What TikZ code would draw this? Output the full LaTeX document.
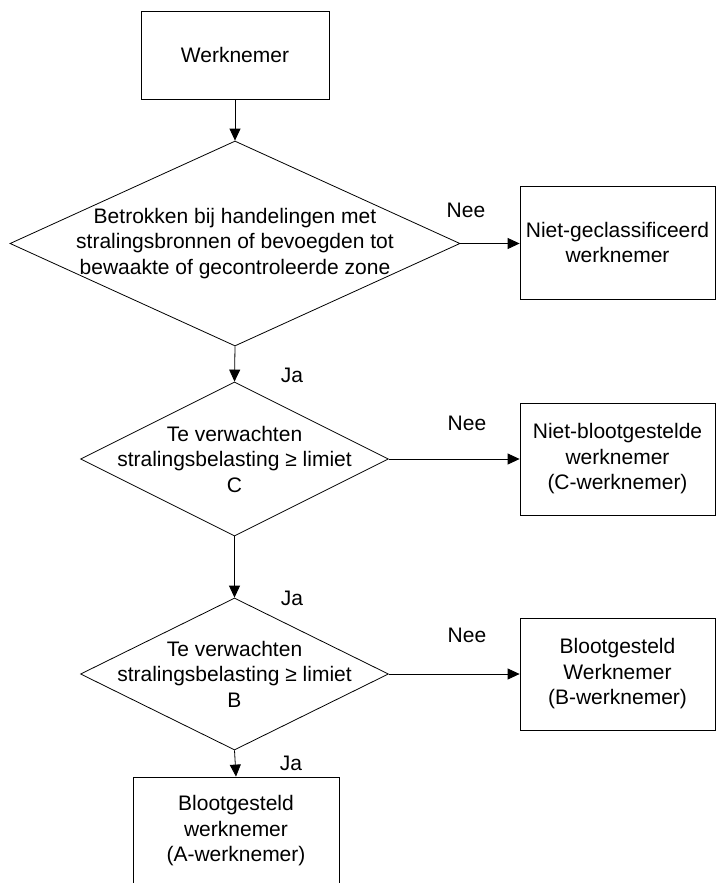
\documentclass[tikz,border=0pt]{standalone}
\usepackage{fontspec}
\setmainfont{Liberation Sans}
\usetikzlibrary{shapes.geometric,arrows.meta}
\begin{document}
\begin{tikzpicture}[x=1pt,y=-1pt,
  box/.style={draw, line width=0.8pt, inner sep=0pt, align=center,
              font=\fontsize{21}{25.5}\selectfont},
  dia/.style={draw, diamond, line width=0.8pt, inner sep=0pt},
  txt/.style={align=center, font=\fontsize{21}{25.5}\selectfont, inner sep=0pt},
  lbl/.style={font=\fontsize{21}{25.5}\selectfont, inner sep=0pt},
  arr/.style={-{Triangle[length=12pt,width=11pt]}, line width=0.8pt}]
\useasboundingbox (0,0) rectangle (716,883);
\clip (0,0) rectangle (716,883);

% main column
\node[box, minimum width=188pt, minimum height=88pt] (top) at (235,55) {Werknemer};

\node[dia, minimum width=450pt, minimum height=205pt] (d1) at (235,243.5) {};
\node[txt] (d1t) at (d1.center) {Betrokken bij handelingen met\\stralingsbronnen of bevoegden tot\\bewaakte of gecontroleerde zone};

\node[dia, minimum width=308pt, minimum height=154pt] (d2) at (234.5,459) {};
\node[txt] (d2t) at (d2.center) {Te verwachten\\stralingsbelasting ≥ limiet\\C};

\node[dia, minimum width=308pt, minimum height=152pt] (d3) at (234.5,674) {};
\node[txt] (d3t) at (d3.center) {Te verwachten\\stralingsbelasting ≥ limiet\\B};

\node[box, minimum width=206pt, minimum height=108pt] (b5) at (236,831) {Blootgesteld\\werknemer\\(A-werknemer)};

% outcome boxes on the right
\node[box, minimum width=195pt, minimum height=113pt] (b2) at (617.5,242.5) {Niet-geclassificeerd\\werknemer};
\node[box, minimum width=195pt, minimum height=112pt] (b3) at (617.5,459) {Niet-blootgestelde\\werknemer\\(C-werknemer)};
\node[box, minimum width=195pt, minimum height=112pt] (b4) at (617.5,674) {Blootgesteld\\Werknemer\\(B-werknemer)};

% connectors
\draw[arr] (top.south) -- (d1.north);
\draw[arr] (d1.south) -- (d2.north);
\draw[arr] (d2.south) -- (d3.north);
\draw[arr] (d3.south) -- (b5.north);
\draw[arr] (d1.east) -- (d1.east -| b2.west);
\draw[arr] (d2.east) -- (d2.east -| b3.west);
\draw[arr] (d3.east) -- (d3.east -| b4.west);

% branch labels
\node[lbl] (n1) at (466,210) {Nee};
\node[lbl] (n2) at (467,423) {Nee};
\node[lbl] (n3) at (467,635) {Nee};
\node[lbl] (j1) at (292,375) {Ja};
\node[lbl] (j2) at (292,598) {Ja};
\node[lbl] (j3) at (291,763) {Ja};
\end{tikzpicture}
\end{document}
